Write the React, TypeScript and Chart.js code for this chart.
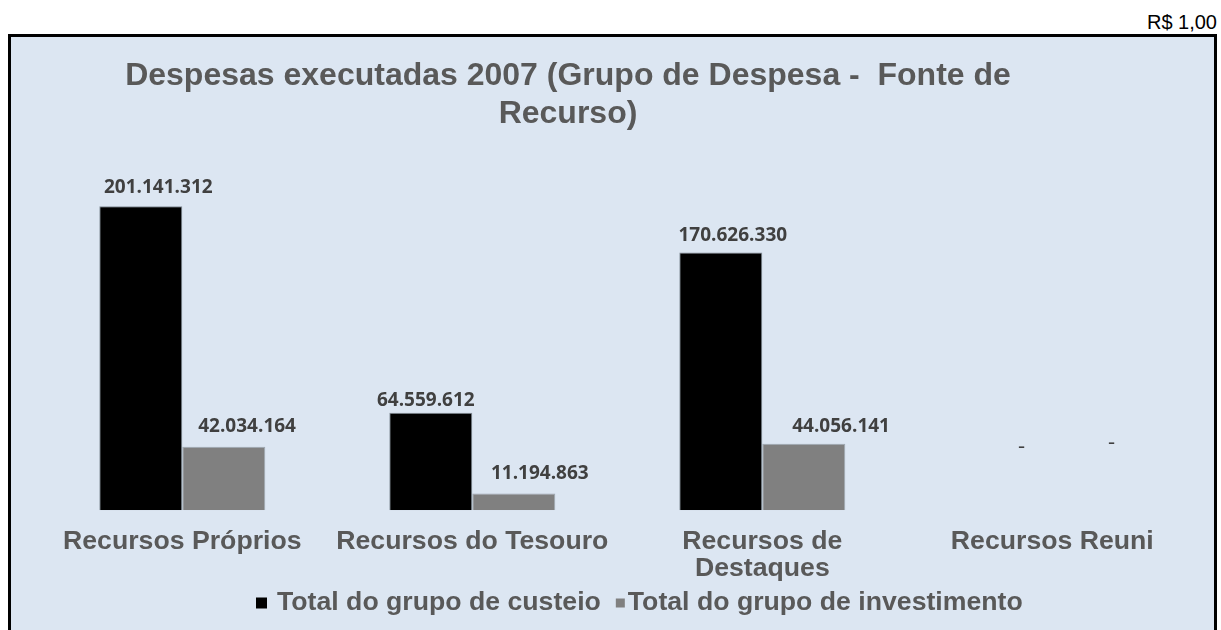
import React, { useEffect, useRef } from 'react';
import { Chart, registerables } from 'chart.js';

Chart.register(...registerables);

const unitLabel = 'R$ 1,00';
const titleLines = ['Despesas executadas 2007 (Grupo de Despesa -  Fonte de', 'Recurso)'];
const categories: (string | string[])[] = [
  'Recursos Próprios',
  'Recursos do Tesouro',
  ['Recursos de', 'Destaques'],
  'Recursos Reuni',
];
const seriesNames = ['Total do grupo de custeio', 'Total do grupo de investimento'];
const custeio = [201141312, 64559612, 170626330, 0];
const investimento = [42034164, 11194863, 44056141, 0];
const yMax = 250000000;

// style: label offsets (dx, dy) relative to bar top-centre
const custeioLabelOffsets = [[17.5, -18.6], [-5, -12.3], [12, -16.7], [10.7, -63.3]];
const investLabelOffsets = [[23.3, -20], [26, -20], [37.3, -16.7], [17.7, -67.6]];

const TEXT_GREY = '#595959';
const LABEL_GREY = '#404040';
const SANS = '"Liberation Sans", Arial, sans-serif';
const LABEL_FONT = '"Open Sans", "Noto Sans", sans-serif';

function fmt(v: number): string {
  if (v === 0) return '-';
  return String(Math.round(v)).replace(/\B(?=(\d{3})+(?!\d))/g, '.');
}

const decorPlugin = {
  id: 'decor',
  afterDraw(chart: any) {
    const ctx = chart.ctx as CanvasRenderingContext2D;
    ctx.save();
    // title
    ctx.fillStyle = TEXT_GREY;
    ctx.font = `bold 32px ${SANS}`;
    ctx.textAlign = 'center';
    ctx.textBaseline = 'middle';
    titleLines.forEach((t, i) => ctx.fillText(t, 557, 39 + i * 38));

    // data labels
    const offsets = [custeioLabelOffsets, investLabelOffsets];
    chart.data.datasets.forEach((ds: any, di: number) => {
      const meta = chart.getDatasetMeta(di);
      meta.data.forEach((bar: any, j: number) => {
        const v = ds.data[j] as number;
        const [dx, dy] = offsets[di][j];
        ctx.fillStyle = LABEL_GREY;
        ctx.font = v === 0 ? `22px ${LABEL_FONT}` : `bold 19px ${LABEL_FONT}`;
        ctx.textAlign = 'center';
        ctx.textBaseline = 'middle';
        ctx.fillText(fmt(v), bar.x + dx, bar.y + dy);
      });
    });

    // legend
    ctx.font = `bold 26.67px ${SANS}`;
    ctx.textAlign = 'left';
    ctx.textBaseline = 'middle';
    const ly = 566;
    let x = 245;
    const colors = ['#000000', '#808080'];
    const sizes = [11, 9];
    const gaps = [10, 3];
    seriesNames.forEach((name, i) => {
      const s = sizes[i];
      ctx.fillStyle = colors[i];
      ctx.fillRect(x, ly - s / 2, s, s);
      x += s + gaps[i];
      ctx.fillStyle = TEXT_GREY;
      ctx.fillText(name, x, ly);
      x += ctx.measureText(name).width + 15;
    });
    ctx.restore();
  },
};

export default function App() {
  const ref = useRef<HTMLCanvasElement | null>(null);

  useEffect(() => {
    document.body.style.margin = '8px 4px 0 8px';
    if (!ref.current) return;
    const chart = new Chart(ref.current, {
      type: 'bar',
      data: {
        labels: categories,
        datasets: [
          {
            label: seriesNames[0],
            data: custeio,
            backgroundColor: '#000000',
            borderColor: 'rgba(120,130,140,0.9)',
            borderWidth: 1,
            categoryPercentage: 0.5724,
            barPercentage: 1,
          },
          {
            label: seriesNames[1],
            data: investimento,
            backgroundColor: '#808080',
            borderColor: 'rgba(150,160,170,0.9)',
            borderWidth: 1,
            categoryPercentage: 0.5724,
            barPercentage: 1,
          },
        ],
      },
      options: {
        animation: false,
        responsive: false,
        maintainAspectRatio: false,
        layout: { padding: { top: 95.5, left: 26.3, right: 16.7, bottom: 29.7 } },
        plugins: {
          legend: { display: false },
          title: { display: false },
          tooltip: { enabled: false },
        },
        scales: {
          x: {
            grid: { display: false, drawTicks: false },
            border: { display: false },
            ticks: {
              color: TEXT_GREY,
              padding: 18,
              maxRotation: 0,
              autoSkip: false,
              font: { family: SANS, size: 26.67, weight: 'bold', lineHeight: 27 / 26.67 },
            },
          },
          y: {
            display: false,
            min: 0,
            max: yMax,
          },
        },
      },
      plugins: [decorPlugin],
    });
    return () => chart.destroy();
  }, []);

  return (
    <div style={{ width: 1209 }}>
      <div
        style={{
          height: 26,
          lineHeight: '28px',
          fontFamily: SANS,
          fontSize: 20,
          color: '#000',
          textAlign: 'right',
        }}
      >
        {unitLabel}
      </div>
      <div
        style={{
          width: 1203,
          height: 593,
          borderTop: '3px solid #000',
          borderLeft: '3px solid #000',
          borderRight: '3px solid #000',
          background: '#dce6f2',
        }}
      >
        <canvas ref={ref} width={1203} height={593} style={{ display: 'block', width: 1203, height: 593 }} />
      </div>
    </div>
  );
}
